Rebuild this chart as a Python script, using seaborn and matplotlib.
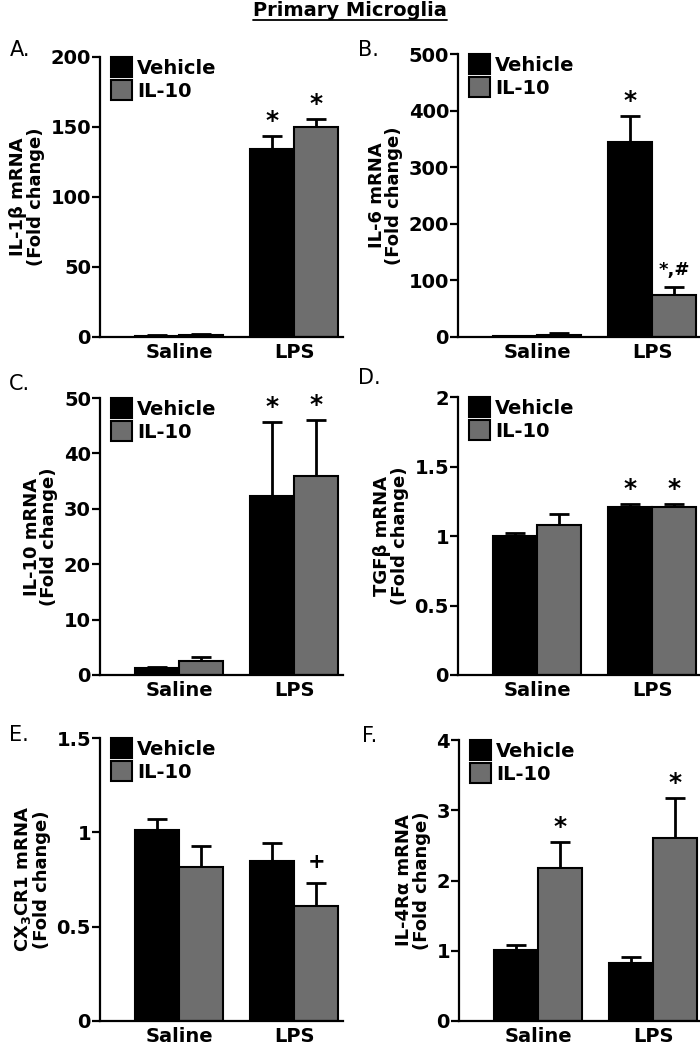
import numpy as np
import pandas as pd
import matplotlib
matplotlib.use("Agg")
import matplotlib.pyplot as plt
import seaborn as sns
from matplotlib.patches import Patch
from matplotlib.lines import Line2D
from matplotlib.container import BarContainer

# ---------------- data ----------------
treatments = ["Saline", "LPS"]
groups = ["Vehicle", "IL-10"]
bar_colors = ["#000000", "#6e6e6e"]

title = "Primary Microglia"
panel_letters = ["A.", "B.", "C.", "D.", "E.", "F."]
ylabels = [
    "IL-1β mRNA\n(Fold change)",
    "IL-6 mRNA\n(Fold change)",
    "IL-10 mRNA\n(Fold change)",
    "TGFβ mRNA\n(Fold change)",
    "CX$_3$CR1 mRNA\n(Fold change)",
    "IL-4Rα mRNA\n(Fold change)",
]

# values ordered [Saline, LPS]
il1b_vehicle = [1.0, 134.0]
il1b_vehicle_sem = [0.3, 9.5]
il1b_il10 = [1.6, 150.0]
il1b_il10_sem = [0.4, 6.0]

il6_vehicle = [2.0, 345.0]
il6_vehicle_sem = [0.5, 45.0]
il6_il10 = [4.0, 74.0]
il6_il10_sem = [3.5, 14.0]

il10_vehicle = [1.3, 32.3]
il10_vehicle_sem = [0.2, 13.4]
il10_il10 = [2.5, 35.9]
il10_il10_sem = [0.7, 10.1]

tgfb_vehicle = [1.00, 1.21]
tgfb_vehicle_sem = [0.02, 0.02]
tgfb_il10 = [1.08, 1.21]
tgfb_il10_sem = [0.08, 0.02]

cx3cr1_vehicle = [1.01, 0.85]
cx3cr1_vehicle_sem = [0.06, 0.095]
cx3cr1_il10 = [0.815, 0.61]
cx3cr1_il10_sem = [0.115, 0.12]

il4ra_vehicle = [1.01, 0.83]
il4ra_vehicle_sem = [0.07, 0.085]
il4ra_il10 = [2.18, 2.61]
il4ra_il10_sem = [0.37, 0.57]

yticks = [
    [0, 50, 100, 150, 200],
    [0, 100, 200, 300, 400, 500],
    [0, 10, 20, 30, 40, 50],
    [0, 0.5, 1, 1.5, 2],
    [0, 0.5, 1, 1.5],
    [0, 1, 2, 3, 4],
]
ytick_labels = [
    ["0", "50", "100", "150", "200"],
    ["0", "100", "200", "300", "400", "500"],
    ["0", "10", "20", "30", "40", "50"],
    ["0", "0.5", "1", "1.5", "2"],
    ["0", "0.5", "1", "1.5"],
    ["0", "1", "2", "3", "4"],
]

# significance marks: (group index, treatment index, text)
marks = [
    [(0, 1, "*"), (1, 1, "*")],
    [(0, 1, "*"), (1, 1, "*,#")],
    [(0, 1, "*"), (1, 1, "*")],
    [(0, 1, "*"), (1, 1, "*")],
    [(1, 1, "+")],
    [(1, 0, "*"), (1, 1, "*")],
]

panels = [
    (il1b_vehicle, il1b_vehicle_sem, il1b_il10, il1b_il10_sem),
    (il6_vehicle, il6_vehicle_sem, il6_il10, il6_il10_sem),
    (il10_vehicle, il10_vehicle_sem, il10_il10, il10_il10_sem),
    (tgfb_vehicle, tgfb_vehicle_sem, tgfb_il10, tgfb_il10_sem),
    (cx3cr1_vehicle, cx3cr1_vehicle_sem, cx3cr1_il10, cx3cr1_il10_sem),
    (il4ra_vehicle, il4ra_vehicle_sem, il4ra_il10, il4ra_il10_sem),
]

# ---------------- style ----------------
sns.set_style("ticks")
plt.rcParams["font.family"] = ["DejaVu Sans"]
plt.rcParams["mathtext.default"] = "bf"
for k in ["text.color", "axes.labelcolor", "xtick.color", "ytick.color",
          "xtick.labelcolor", "ytick.labelcolor", "axes.edgecolor"]:
    plt.rcParams[k] = "black"
FS = 14

W, H = 700, 1050
fig = plt.figure(figsize=(7, 10.5), dpi=100)

# axes rectangles in pixels: (left, top, right, bottom)
rects_px = [
    (100, 57, 343, 337),
    (458, 54, 701, 337),
    (100, 398, 343, 675),
    (458, 397, 701, 675),
    (100, 738, 343, 1021),
    (459, 740, 702, 1021),
]
letter_pos = [(10, 50), (358, 50), (9, 384), (358, 378), (9, 735), (362, 736)]

for i, (vals_v, sem_v, vals_i, sem_i) in enumerate(panels):
    l, t, r, b = rects_px[i]
    ax = fig.add_axes([l / W, 1 - b / H, (r - l) / W, (b - t) / H])
    df = pd.DataFrame({
        "treatment": treatments * 2,
        "group": [groups[0]] * 2 + [groups[1]] * 2,
        "value": list(vals_v) + list(vals_i),
    })
    sns.barplot(data=df, x="treatment", y="value", hue="group",
                order=treatments, hue_order=groups,
                palette=bar_colors, edgecolor="black", linewidth=1.5,
                width=0.77, errorbar=None, legend=False, ax=ax,
                saturation=1)
    sems = [sem_v, sem_i]
    vals = [vals_v, vals_i]
    bar_conts = [c for c in ax.containers if isinstance(c, BarContainer)]
    for gi, cont in enumerate(bar_conts):
        xs = [p.get_x() + p.get_width() / 2 for p in cont.patches]
        ax.errorbar(xs, vals[gi], yerr=[np.zeros(2), sems[gi]], fmt="none",
                    ecolor="black", elinewidth=2, capsize=7, capthick=2,
                    zorder=1)
        for p in cont.patches:
            p.set_zorder(2)
    # significance marks
    for gi, ti, txt in marks[i]:
        p = bar_conts[gi].patches[ti]
        xc = p.get_x() + p.get_width() / 2
        ytop = vals[gi][ti] + sems[gi][ti]
        if txt == "*":
            ax.annotate(txt, (xc, ytop), xytext=(0, 2), textcoords="offset points",
                        ha="center", va="bottom", fontsize=18, fontweight="bold")
        elif txt == "+":
            ax.annotate(txt, (xc, ytop), xytext=(0, 8), textcoords="offset points",
                        ha="center", va="bottom", fontsize=15, fontweight="bold")
        else:
            ax.annotate(txt, (xc, ytop), xytext=(0, 6), textcoords="offset points",
                        ha="center", va="bottom", fontsize=13, fontweight="bold")

    ax.set_xlim(-0.687, 1.426)
    ax.set_ylim(0, yticks[i][-1])
    ax.set_yticks(yticks[i])
    ax.set_yticklabels(ytick_labels[i], fontsize=FS, fontweight="bold")
    ax.set_xticks(range(len(treatments)))
    ax.set_xticklabels(treatments, fontsize=FS, fontweight="bold")
    ax.set_xlabel("")
    ax.set_ylabel(ylabels[i], fontsize=13, fontweight="bold",
                  linespacing=0.95, labelpad=4)
    for s in ["top", "right"]:
        ax.spines[s].set_visible(False)
    for s in ["left", "bottom"]:
        ax.spines[s].set_linewidth(1.6)
        ax.spines[s].set_color("black")
    ax.tick_params(axis="y", length=5.5, width=1.6, pad=1, color="black")
    ax.tick_params(axis="x", length=0, pad=4)
    ax.set_facecolor("white")

    handles = [Patch(facecolor=c, edgecolor="black", linewidth=1.5) for c in bar_colors]
    ax.legend(handles, groups, loc="upper left", bbox_to_anchor=(0.045, 1.0),
              frameon=False, prop={"size": FS, "weight": "bold"},
              borderpad=0, borderaxespad=0,
              handlelength=1.1, handleheight=1.2, handletextpad=0.25,
              labelspacing=0.15)

    lx, ly = letter_pos[i]
    fig.text(lx / W, 1 - ly / H, panel_letters[i], fontsize=15,
             ha="left", va="center")

# title with underline
tt = fig.text(0.5, 1 - 11 / H, title, fontsize=14, fontweight="bold",
              ha="center", va="center")
fig.canvas.draw()
bb = tt.get_window_extent(renderer=fig.canvas.get_renderer())
yline = bb.y0 + 1
fig.add_artist(Line2D([bb.x0 / W, bb.x1 / W], [yline / H, yline / H],
                      color="black", linewidth=1.3, transform=fig.transFigure))

fig.savefig("out.png", dpi=100, facecolor="white")
